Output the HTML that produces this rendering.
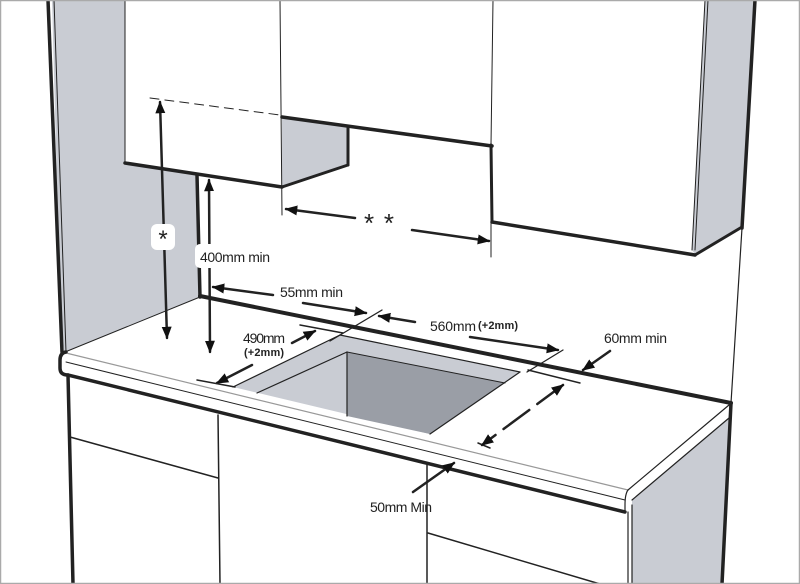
<!DOCTYPE html>
<html><head><meta charset="utf-8"><style>
html,body{margin:0;padding:0;background:#fff}
svg{display:block}
text{font-family:"Liberation Sans Narrow","Liberation Sans",sans-serif;fill:#222}
</style></head><body>
<svg width="800" height="584" viewBox="0 0 800 584" xmlns="http://www.w3.org/2000/svg">
<defs>
<marker id="ah" viewBox="0 0 10 10" refX="9" refY="5" markerWidth="5" markerHeight="5" orient="auto-start-reverse">
<path d="M0,1 L10,5 L0,9 z" fill="#111"/></marker>
</defs>
<rect x="0" y="0" width="800" height="584" fill="#fff"/>
<!-- left side wall gray -->
<polygon points="52,0 125,0 125,163 197,175 200,297 64,352 60,300" fill="#c9ccd3"/>
<!-- right cabinet side gray -->
<polygon points="705,0 754,0 742,228 695,254 692,250" fill="#c9ccd3"/>
<!-- gray under left cabinet piece -->
<polygon points="282,117 348,127 348,165 282,187" fill="#c9ccd3"/>
<!-- right lower side gray -->
<polygon points="632,500 729,418 722,584 632,584" fill="#c9ccd3"/>
<!-- cutout -->
<polygon points="340,335 520,372 430,434 233,387" fill="#c9ccd3"/>
<polygon points="347,352 505,383 430,434 347,416" fill="#9a9ea6"/>
<g fill="none" stroke="#222" stroke-linecap="round">
<line x1="340" y1="335" x2="520" y2="372" stroke-width="1.2"/>
<line x1="340" y1="335" x2="233" y2="387" stroke-width="1.2"/>
<line x1="347" y1="352" x2="257" y2="393" stroke-width="1.2"/>
<line x1="347" y1="352" x2="347" y2="416" stroke-width="1.2"/>
<line x1="347" y1="352" x2="505" y2="383" stroke-width="1"/>
<line x1="520" y1="372" x2="430" y2="434" stroke-width="1.2"/>
<!-- left wall lines -->
<line x1="48" y1="0" x2="62" y2="352" stroke-width="3.5"/>
<line x1="54" y1="0" x2="66" y2="352" stroke-width="1"/>
<line x1="125" y1="0" x2="125" y2="163" stroke-width="1"/>
<line x1="280" y1="0" x2="282" y2="215" stroke-width="1"/>
<line x1="125" y1="163" x2="282" y2="187" stroke-width="3.5"/>
<line x1="282" y1="187" x2="348" y2="165" stroke-width="3"/>
<line x1="348" y1="165" x2="348" y2="127" stroke-width="3"/>
<line x1="282" y1="117" x2="492" y2="146" stroke-width="3.5"/>
<line x1="493" y1="0" x2="491" y2="145" stroke-width="1"/>
<line x1="491" y1="145" x2="492" y2="222" stroke-width="3"/>
<line x1="491" y1="222" x2="491" y2="257" stroke-width="1"/>
<line x1="492" y1="222" x2="695" y2="255" stroke-width="3.5"/>
<line x1="695" y1="255" x2="742" y2="227" stroke-width="3"/>
<line x1="705" y1="0" x2="692" y2="250" stroke-width="1"/>
<line x1="708" y1="0" x2="695" y2="250" stroke-width="1"/>
<line x1="755" y1="0" x2="742" y2="228" stroke-width="3.5"/>
<line x1="742" y1="228" x2="731" y2="403" stroke-width="1.2"/>
<line x1="731" y1="403" x2="722" y2="584" stroke-width="3.5"/>
<line x1="197" y1="175" x2="200" y2="297" stroke-width="3.5"/>
<line x1="200" y1="296" x2="731" y2="403" stroke-width="4"/>
<line x1="200" y1="297" x2="65" y2="352" stroke-width="1"/>
<!-- counter -->
<line x1="66" y1="353" x2="628" y2="490" stroke="#999" stroke-width="1.2"/>
<path d="M66,352 Q60,353 60,360 L60,368 Q60,375 68,375 L625,512" stroke-width="3.5"/>
<line x1="66" y1="362" x2="625" y2="500" stroke-width="1"/>
<path d="M628,490 Q625,494 625,505 L625,512" stroke-width="1.2"/>
<line x1="628" y1="490" x2="729" y2="405" stroke-width="1.2"/>
<line x1="632" y1="500" x2="729" y2="418" stroke-width="1.2"/>
<line x1="628" y1="512" x2="628" y2="584" stroke-width="1.2"/>
<line x1="632" y1="505" x2="632" y2="584" stroke-width="1.2"/>
<!-- lower cabinets -->
<line x1="68" y1="375" x2="73" y2="584" stroke-width="3.5"/>
<line x1="218" y1="415" x2="220" y2="584" stroke-width="1.5"/>
<line x1="70" y1="437" x2="218" y2="478" stroke-width="1.5"/>
<line x1="427" y1="465" x2="427" y2="584" stroke-width="1.5"/>
<line x1="428" y1="533" x2="600" y2="584" stroke-width="1.5"/>
<!-- dimension * -->
<line x1="150" y1="98" x2="280" y2="115" stroke-width="1" stroke-dasharray="9,6"/>
<line x1="160" y1="102" x2="167" y2="338" stroke-width="2.5" marker-start="url(#ah)" marker-end="url(#ah)"/>
<line x1="209" y1="180" x2="210" y2="352" stroke-width="2.5" marker-start="url(#ah)" marker-end="url(#ah)"/>
<!-- ** -->
<line x1="355" y1="218" x2="286" y2="209" stroke-width="2.5" marker-end="url(#ah)"/>
<line x1="412" y1="230" x2="489" y2="241" stroke-width="2.5" marker-end="url(#ah)"/>
<!-- 55mm -->
<line x1="273" y1="295" x2="213" y2="287" stroke-width="2.5" marker-end="url(#ah)"/>
<line x1="303" y1="303" x2="366" y2="313" stroke-width="2.5" marker-end="url(#ah)"/>
<line x1="382" y1="310" x2="330" y2="341" stroke-width="1.3"/>
<!-- 560 -->
<line x1="415" y1="322" x2="379" y2="316" stroke-width="2.5" marker-end="url(#ah)"/>
<line x1="470" y1="337" x2="558" y2="350" stroke-width="2.5" marker-end="url(#ah)"/>
<line x1="563" y1="350" x2="527" y2="372" stroke-width="1.3"/>
<!-- 60mm -->
<line x1="610" y1="351" x2="583" y2="370" stroke-width="2.5" marker-end="url(#ah)"/>
<!-- depth right -->
<line x1="528" y1="370" x2="580" y2="383" stroke-width="1.5"/>
<line x1="478" y1="443" x2="490" y2="448" stroke-width="1.5"/>
<line x1="563" y1="385" x2="482" y2="445" stroke-width="2.5" stroke-dasharray="32,10" marker-start="url(#ah)" marker-end="url(#ah)"/>
<!-- 490 -->
<line x1="300" y1="325" x2="343" y2="333" stroke-width="1.5"/>
<line x1="292" y1="343" x2="315" y2="331" stroke-width="2.5" marker-end="url(#ah)"/>
<line x1="252" y1="365" x2="217" y2="383" stroke-width="2.5" marker-end="url(#ah)"/>
<line x1="197" y1="380" x2="235" y2="387" stroke-width="1.5"/>
<!-- 50mm -->
<line x1="413" y1="492" x2="454" y2="463" stroke-width="2.5" marker-end="url(#ah)"/>
</g>
<!-- labels -->
<rect x="151" y="224" width="24" height="26" rx="6" fill="#fff"/>
<text x="163" y="247" font-size="24" text-anchor="middle">*</text>
<rect x="195" y="244" width="80" height="24" rx="5" fill="#fff"/>
<text x="200" y="262" font-size="14" textLength="70">400mm min</text>
<text x="364" y="232" font-size="26" textLength="30">**</text>
<text x="280" y="297" font-size="14" textLength="63">55mm min</text>
<text x="430" y="331" font-size="14" textLength="46">560mm</text>
<text x="478" y="329" font-size="11" font-weight="bold" textLength="40">(+2mm)</text>
<text x="604" y="343" font-size="14" textLength="63">60mm min</text>
<text x="243" y="343" font-size="14" textLength="42">490mm</text>
<text x="244" y="356" font-size="11" font-weight="bold" textLength="40">(+2mm)</text>
<text x="370" y="512" font-size="14" textLength="62">50mm Min</text>
<rect x="0.5" y="0.5" width="799" height="583" fill="none" stroke="#aaa" stroke-width="1.5"/>
</svg>
</body></html>
